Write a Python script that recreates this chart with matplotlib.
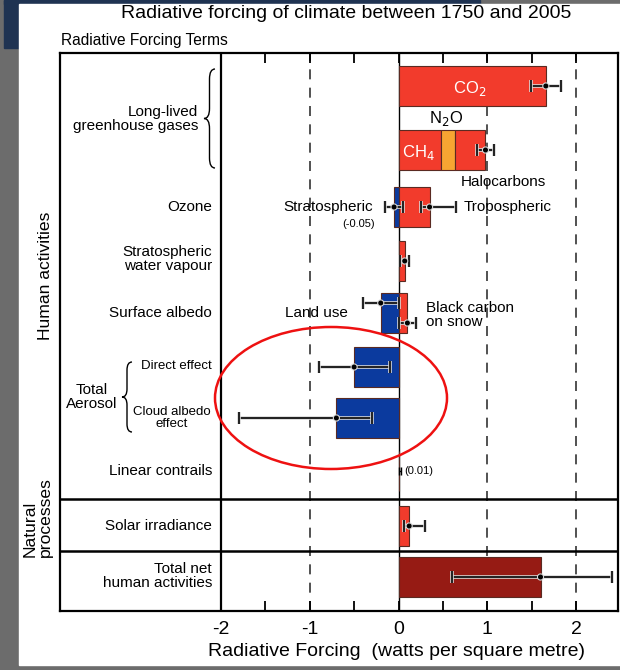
import matplotlib
matplotlib.use("Agg")
import matplotlib.pyplot as plt
import matplotlib.patheffects as pe
from matplotlib.patches import Rectangle, Ellipse, PathPatch
from matplotlib.path import Path

plt.rcParams['font.family'] = ['Liberation Sans', 'DejaVu Sans']

# ---------------- data (W m-2) ----------------
co2 = 1.66
co2_err = (1.49, 1.83)
ch4 = 0.48
n2o = 0.16
halocarbons = 0.34
nonco2_err = (0.88, 1.08)
strat_o3 = -0.05
strat_o3_err = (-0.15, 0.05)
trop_o3 = 0.35
trop_o3_err = (0.25, 0.65)
strat_h2o = 0.07
strat_h2o_err = (0.02, 0.12)
land_use = -0.2
land_use_err = (-0.4, 0.0)
bc_snow = 0.1
bc_snow_err = (0.0, 0.2)
aer_direct = -0.5
aer_direct_err = (-0.9, -0.1)
aer_cloud = -0.7
aer_cloud_err = (-1.8, -0.3)
contrails = 0.01
contrails_err = (0.003, 0.03)
solar = 0.12
solar_err = (0.06, 0.30)
total_net = 1.6
total_net_err = (0.6, 2.4)

xticks = [-2, -1, 0, 1, 2]
xticklabels = ['-2', '-1', '0', '1', '2']

# ---------------- layout ----------------
W, H = 620, 670
fig = plt.figure(figsize=(W / 100, H / 100), dpi=100)
fig.patch.set_facecolor('#6c6c6c')

def fx(px):
    return px / W

def fy(py):
    return 1 - py / H

# page background pieces (screenshot)
fig.patches.append(Rectangle((fx(4), fy(48)), fx(16), fy(0) - fy(48),
                             transform=fig.transFigure, color='#1f3352', zorder=-10))
fig.patches.append(Rectangle((fx(4), fy(4)), fx(476), fy(0) - fy(4),
                             transform=fig.transFigure, color='#1f3352', zorder=-10))
fig.patches.append(Rectangle((fx(19), fy(665)), fx(601), fy(4) - fy(665),
                             transform=fig.transFigure, color='white', zorder=-9))

ax_l, ax_r, ax_t, ax_b = 60, 618, 53, 611
ax = fig.add_axes([fx(ax_l), fy(ax_b), fx(ax_r - ax_l), fy(ax_t) - fy(ax_b)])
ax.set_zorder(1)
ax.set_facecolor('white')

x0px, ppu = 398.5, 88.75   # pixel of x=0, pixels per unit
def dx(px):
    return (px - x0px) / ppu

rowpx = 54.0
def uy(py):
    return (py - ax_t) / rowpx

ax.set_xlim(dx(ax_l), dx(ax_r))
ax.set_ylim(uy(ax_b), uy(ax_t))

# row centres
r_co2 = uy(86)
r_ghg = uy(150)
r_o3 = uy(207)
r_h2o = uy(261)
r_alb = uy(313)
r_dir = uy(367)
r_cld = uy(418)
r_con = uy(471)
r_sol = uy(526)
r_tot = uy(577)
bh = 40 / rowpx

RED = '#f23b2c'
ORANGE = '#f7a532'
BLUE = '#0b3a9e'
DRED = '#961b14'
EDGE = '#5a2a22'
FS = 11

# grid lines
for v in [-1, 1, 2]:
    ax.axvline(v, color='#333333', lw=1.2, ls=(0, (6, 5)), zorder=1)
ax.axvline(0, color='black', lw=1.0, zorder=1)
ax.axvline(-2, color='black', lw=1.6, zorder=1)
for py in [499, 551]:
    ax.axhline(uy(py), color='black', lw=1.8, zorder=1)

def bar(y, left, width, color, z=2):
    ax.barh(y, width, left=left, height=bh, color=color, edgecolor=EDGE,
            linewidth=0.8, zorder=z)

def err(y, val, lo, hi):
    ax.errorbar([val], [y], xerr=[[val - lo], [hi - val]], fmt='o', ms=2.6,
                color='black', ecolor='black', elinewidth=1.2, capsize=4,
                capthick=1.2, zorder=5,
                path_effects=[pe.withStroke(linewidth=2.6, foreground='#d8d8d8')])

# CO2
bar(r_co2, 0, co2, RED)
err(r_co2, co2, *co2_err)
# CH4 / N2O / Halocarbons
bar(r_ghg, 0, ch4, RED)
bar(r_ghg, ch4, n2o, ORANGE)
bar(r_ghg, ch4 + n2o, halocarbons, RED)
err(r_ghg, ch4 + n2o + halocarbons, *nonco2_err)
# Ozone
bar(r_o3, 0, strat_o3, BLUE)
bar(r_o3, 0, trop_o3, RED)
err(r_o3, strat_o3, *strat_o3_err)
err(r_o3, trop_o3, *trop_o3_err)
# Strat water vapour
bar(r_h2o, 0, strat_h2o, RED)
err(r_h2o, strat_h2o, *strat_h2o_err)
# Surface albedo
bar(r_alb, 0, land_use, BLUE)
bar(r_alb, 0, bc_snow, RED)
err(r_alb - 10 / rowpx, land_use, *land_use_err)
err(r_alb + 10 / rowpx, bc_snow, *bc_snow_err)
# Aerosols
bar(r_dir, 0, aer_direct, BLUE)
err(r_dir, aer_direct, *aer_direct_err)
bar(r_cld, 0, aer_cloud, BLUE)
err(r_cld, aer_cloud, *aer_cloud_err)
# Contrails
bar(r_con, 0, contrails, RED)
ax.errorbar([contrails], [r_con], xerr=[[contrails - contrails_err[0]],
            [contrails_err[1] - contrails]], fmt='none', ecolor='black',
            elinewidth=1, capsize=3, zorder=5)
# Solar
bar(r_sol, 0, solar, RED)
err(r_sol, solar, *solar_err)
# Total net
bar(r_tot, 0, total_net, DRED)
err(r_tot, total_net, *total_net_err)

# ticks
ax.set_xticks(xticks)
ax.set_xticklabels(xticklabels, fontsize=14)
ax.set_xticks([-1.5, -0.5, 0.5, 1.5], minor=True)
ax.tick_params(axis='x', which='both', direction='in', length=7, width=1.3,
               top=True, bottom=True, pad=7)
ax.set_yticks([])
for s in ax.spines.values():
    s.set_linewidth(1.6)
ax.set_xlabel('Radiative Forcing  (watts per square metre)', fontsize=14,
              labelpad=3)
ax.xaxis.set_label_coords((397 - ax_l) / (ax_r - ax_l), -0.058)

# in-plot labels
ax.text(dx(470), r_co2 + 2 / rowpx, 'CO$_2$', color='white', fontsize=12,
        ha='center', va='center', zorder=6)
ax.text(dx(418), r_ghg + 2 / rowpx, 'CH$_4$', color='white', fontsize=12,
        ha='center', va='center', zorder=6)
ax.text(dx(446), uy(118), 'N$_2$O', color='black', fontsize=12,
        ha='center', va='center', zorder=6)
ax.text(dx(503), uy(182), 'Halocarbons', color='black', fontsize=FS,
        ha='center', va='center', zorder=6)
ax.text(dx(373), r_o3, 'Stratospheric', fontsize=FS, ha='right', va='center')
ax.text(dx(359), uy(224), '(-0.05)', fontsize=8, ha='center', va='center')
ax.text(dx(464), r_o3, 'Tropospheric', fontsize=FS, ha='left', va='center')
ax.text(dx(348), uy(313), 'Land use', fontsize=FS, ha='right', va='center')
ax.text(dx(426), uy(315), 'Black carbon\non snow', fontsize=FS, ha='left',
        va='center', linespacing=0.95)
ax.text(dx(404), r_con, '(0.01)', fontsize=8, ha='left', va='center')

# left labels
lx = dx(212)
ax.text(dx(198), uy(119), 'Long-lived\ngreenhouse gases', fontsize=FS,
        ha='right', va='center', linespacing=1.05)
ax.text(lx, r_o3, 'Ozone', fontsize=FS, ha='right', va='center')
ax.text(lx, uy(259), 'Stratospheric\nwater vapour', fontsize=FS, ha='right',
        va='center', linespacing=1.05)
ax.text(lx, r_alb, 'Surface albedo', fontsize=FS, ha='right', va='center')
ax.text(lx, uy(366), 'Direct effect', fontsize=9.5, ha='right', va='center')
ax.text(dx(172), uy(418), 'Cloud albedo\neffect', fontsize=9.5, ha='center',
        va='center', linespacing=1.0)
ax.text(dx(92), uy(397), 'Total\nAerosol', fontsize=FS, ha='center',
        va='center', linespacing=1.05)
ax.text(lx, r_con, 'Linear contrails', fontsize=FS, ha='right', va='center')
ax.text(lx, r_sol, 'Solar irradiance', fontsize=FS, ha='right', va='center')
ax.text(lx, uy(576), 'Total net\nhuman activities', fontsize=FS, ha='right',
        va='center', ma='right', linespacing=1.05)

# braces (drawn in pixel space of the figure)
def brace(xl, xr, ytop, ybot, r=10):
    xm = (xl + xr) / 2
    ym = (ytop + ybot) / 2
    pts = [(xr, ytop), (xm, ytop), (xm, ytop + r),
           (xm, ym - r), (xm, ym), (xl, ym),
           (xm, ym), (xm, ym + r),
           (xm, ybot - r), (xm, ybot), (xr, ybot)]
    codes = [Path.MOVETO, Path.CURVE3, Path.CURVE3,
             Path.LINETO, Path.CURVE3, Path.CURVE3,
             Path.CURVE3, Path.CURVE3,
             Path.LINETO, Path.CURVE3, Path.CURVE3]
    p = Path([(fx(a), fy(b)) for a, b in pts], codes)
    fig.patches.append(PathPatch(p, transform=fig.transFigure, fill=False,
                                 lw=1.0, color='black', zorder=10))

brace(204, 215, 69, 168, r=10)
brace(122, 132, 362, 432, r=8)

# outer labels
fig.text(fx(346), fy(14), 'Radiative forcing of climate between 1750 and 2005',
         fontsize=14, ha='center', va='center')
fig.text(fx(61), fy(40), 'Radiative Forcing Terms', fontsize=11.2,
         ha='left', va='center')
fig.text(fx(46), fy(276), 'Human activities', fontsize=12.6, rotation=90,
         ha='center', va='center')
fig.text(fx(38), fy(557), 'Natural\nprocesses', fontsize=12.6, rotation=90,
         ha='center', va='bottom', ma='left', linespacing=1.0)

# annotation ellipse
fig.patches.append(Ellipse((fx(331), fy(398)), fx(232), fy(0) - fy(142),
                           transform=fig.transFigure, fill=False,
                           edgecolor='#ee1111', lw=1.8, zorder=20))

fig.savefig('out.png', dpi=100, facecolor=fig.get_facecolor())
